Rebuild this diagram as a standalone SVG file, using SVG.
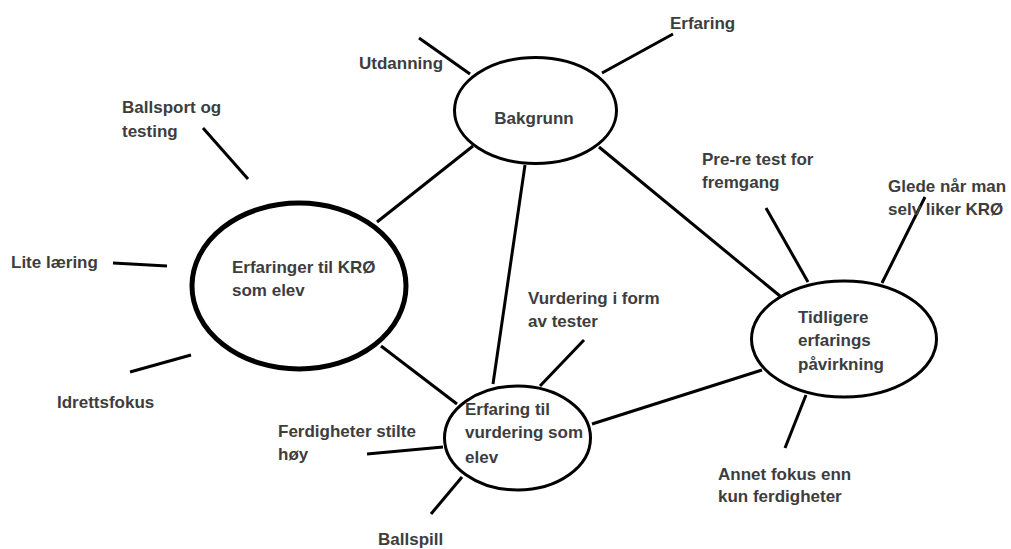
<svg xmlns="http://www.w3.org/2000/svg" width="1011" height="549" viewBox="0 0 1011 549">
<style>
text{font-family:"Liberation Sans",Arial,sans-serif;font-weight:bold;font-size:17px;fill:#3d3d3d}
.n{fill:#fff;stroke:#000;stroke-width:3}
.thick{stroke-width:5}
.c line{stroke:#000;stroke-width:3;stroke-linecap:butt}
</style>
<rect width="1011" height="549" fill="#fff"/>
<g class="c" id="connectors">
<line x1="473" y1="146" x2="377" y2="222"/>
<line x1="525" y1="165" x2="493" y2="384"/>
<line x1="599" y1="147" x2="780" y2="296"/>
<line x1="381" y1="346" x2="457" y2="404"/>
<line x1="592" y1="424" x2="762" y2="370"/>
<line x1="419" y1="38" x2="470" y2="74"/>
<line x1="602" y1="73" x2="673" y2="34"/>
<line x1="203" y1="128" x2="248" y2="179"/>
<line x1="113" y1="263" x2="167" y2="266"/>
<line x1="130" y1="372" x2="191" y2="355"/>
<line x1="540" y1="386" x2="584" y2="340"/>
<line x1="367" y1="454" x2="443" y2="447"/>
<line x1="431" y1="514" x2="462" y2="477"/>
<line x1="766" y1="208" x2="808" y2="282"/>
<line x1="925" y1="197" x2="882" y2="283"/>
<line x1="806" y1="395" x2="785" y2="448"/>
</g>
<g id="bakgrunn">
<ellipse class="n" cx="535.5" cy="110.5" rx="81" ry="53"/>
<text x="534" y="124" text-anchor="middle">Bakgrunn</text>
</g>
<g id="erfaringer-kro">
<ellipse class="n thick" cx="299" cy="286" rx="107" ry="83"/>
<text x="232" y="273">Erfaringer til KRØ</text>
<text x="232" y="296">som elev</text>
</g>
<g id="erfaring-vurdering">
<ellipse class="n" cx="517.5" cy="438" rx="73" ry="52"/>
<text x="465" y="415">Erfaring til</text>
<text x="465" y="438">vurdering som</text>
<text x="465" y="463">elev</text>
</g>
<g id="tidligere">
<ellipse class="n" cx="844" cy="339" rx="92.5" ry="58"/>
<text x="798" y="323">Tidligere</text>
<text x="798" y="346">erfarings</text>
<text x="798" y="370">påvirkning</text>
</g>
<g id="utdanning"><text x="359" y="69">Utdanning</text></g>
<g id="erfaring"><text x="670" y="29">Erfaring</text></g>
<g id="ballsport"><text x="122" y="113">Ballsport og</text><text x="122" y="137">testing</text></g>
<g id="lite-laering"><text x="11" y="268">Lite læring</text></g>
<g id="idrettsfokus"><text x="57" y="408">Idrettsfokus</text></g>
<g id="vurdering-tester"><text x="528" y="304">Vurdering i form</text><text x="528" y="327">av tester</text></g>
<g id="ferdigheter"><text x="278" y="437">Ferdigheter stilte</text><text x="278" y="460">høy</text></g>
<g id="ballspill"><text x="378" y="545">Ballspill</text></g>
<g id="pre-re"><text x="702" y="165">Pre-re test for</text><text x="702" y="188">fremgang</text></g>
<g id="glede"><text x="888" y="192">Glede når man</text><text x="888" y="215">selv liker KRØ</text></g>
<g id="annet"><text x="718" y="480">Annet fokus enn</text><text x="718" y="502">kun ferdigheter</text></g>
</svg>
